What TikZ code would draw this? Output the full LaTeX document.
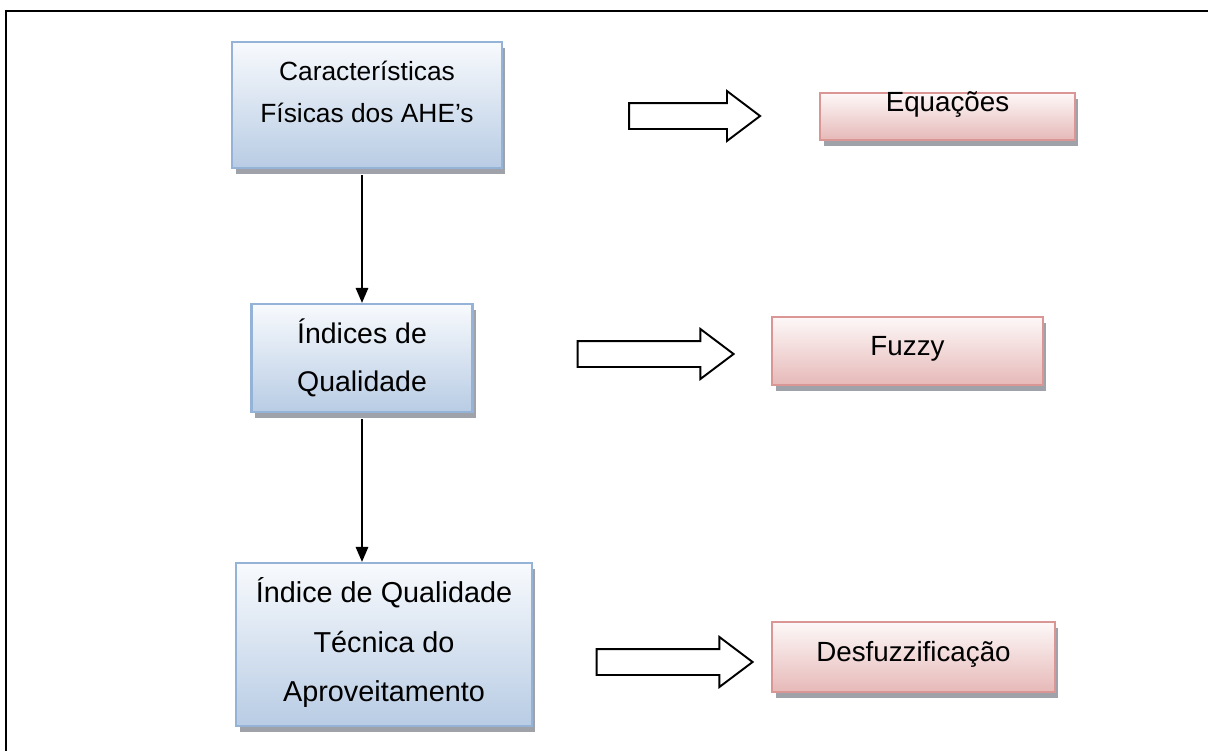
\documentclass[tikz,border=0pt]{standalone}
\usepackage{fontspec}
\setmainfont{Liberation Sans}
\usetikzlibrary{arrows.meta,shapes.arrows,shadows}
\definecolor{blueedge}{HTML}{95B3D7}
\definecolor{bluetop}{HTML}{F8FAFD}
\definecolor{bluebot}{HTML}{B8CCE4}
\definecolor{pinkedge}{HTML}{D99694}
\definecolor{pinktop}{HTML}{FDF8F8}
\definecolor{pinkbot}{HTML}{E6B9B8}
\definecolor{shadowgray}{HTML}{A0A2AA}

\begin{document}
\begin{tikzpicture}[x=0.02cm, y=-0.02cm,
  box/.style={line width=1.3pt, align=center, inner sep=0pt,
    drop shadow={opacity=1, fill=shadowgray, shadow xshift=0.07cm, shadow yshift=-0.12cm}},
  bluebox/.style={box, draw=blueedge, top color=bluetop, bottom color=bluebot},
  pinkbox/.style={box, draw=pinkedge, top color=pinktop, bottom color=pinkbot,
    font=\fontsize{15.8}{20}\selectfont},
  bigarrow/.style={single arrow, draw, line width=1.1pt, fill=white, inner sep=0pt,
    inner ysep=0.24cm, single arrow head extend=0.24cm, single arrow tip angle=74},
  flow/.style={line width=1pt, -{Triangle[length=0.3cm,width=0.25cm]}}]
\useasboundingbox (0,0) rectangle (1208,751);
\draw[line width=1.1pt] (6,780) -- (6,11) -- (1230,11);

% Left column
\node[bluebox, minimum width=5.4cm, text height=1.6cm, text depth=0.92cm,
  font=\fontsize{15}{23.9}\selectfont] (fisicas) at (367,105)
  {Características\\Físicas dos AHE’s};
\node[bluebox, minimum width=4.42cm, text height=1.76cm, text depth=0.4cm,
  font=\fontsize{16.2}{27.8}\selectfont] (indices) at (362,358)
  {Índices de\\Qualidade};
\node[bluebox, minimum width=5.92cm, text height=2.78cm, text depth=0.48cm,
  font=\fontsize{16.4}{28.4}\selectfont] (tecnica) at (384,644.5)
  {Índice de Qualidade\\Técnica do\\Aproveitamento};
\coordinate (axis) at (362,0);
\draw[flow] ([yshift=-0.12cm]fisicas.south -| axis) -- (indices.north -| axis);
\draw[flow] ([yshift=-0.12cm]indices.south -| axis) -- (tecnica.north -| axis);

% Right column
\node[pinkbox, minimum width=5.1cm, text height=0.37cm, text depth=0.57cm] (equacoes) at (947.5,116.5) {Equações};
\node[pinkbox, minimum width=5.42cm, text height=0.76cm, text depth=0.6cm] (fuzzy) at (907.5,351) {Fuzzy};
\node[pinkbox, minimum width=5.66cm, text height=0.78cm, text depth=0.62cm] (desfuzz) at (913.5,657) {Desfuzzificação};

% Block arrows
\node[bigarrow, minimum height=2.62cm] (seta1) at (686,116) {};
\node[bigarrow, minimum height=3.12cm] (seta2) at (647,354) {};
\node[bigarrow, minimum height=3.12cm] (seta3) at (666,662) {};
\end{tikzpicture}
\end{document}
